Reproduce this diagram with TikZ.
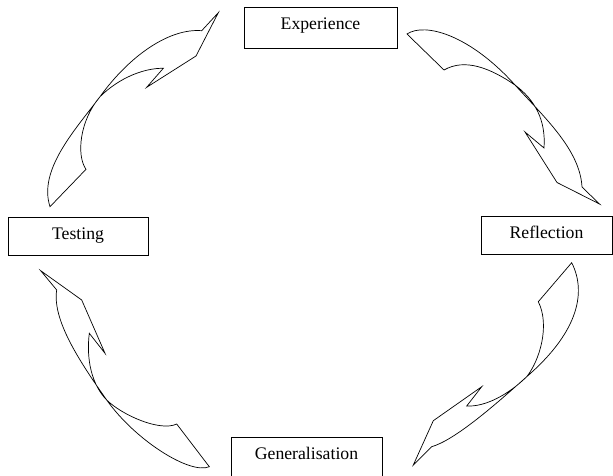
\documentclass[tikz,border=0pt]{standalone}
\usepackage{fontspec}
\setmainfont{Liberation Serif}
\begin{document}
\begin{tikzpicture}[x=1pt,y=-1pt,
  stagebox/.style={draw, line width=0.7pt, inner sep=0pt, text height=22pt,
    font=\fontsize{17.7}{20}\selectfont, anchor=base},
  twist/.style={draw, line width=0.7pt, line join=miter, fill=white}]
\useasboundingbox (0,0) rectangle (613,476);
% boxes
\node[stagebox, minimum width=153pt, text depth=18.5pt] (exp) at (320.5,29.5) {Experience};
\node[stagebox, minimum width=140pt, text depth=16pt] (test) at (78,239) {Testing};
\node[stagebox, minimum width=131pt, text depth=15.5pt] (refl) at (546.5,238.5) {Reflection};
\node[stagebox, minimum width=151pt, text depth=24pt] (gen) at (306.5,459) {Generalisation};
% arrow 1: Testing -> Experience
\draw[twist] (218.3,12.7) -- (201.7,30.7)
  .. controls (170,28) and (130,55) .. (100,96.7)
  .. controls (75,130) and (38,170) .. (50,206.7)
  -- (86,169.3)
  .. controls (76,155) and (80,120) .. (100,96.7)
  .. controls (120,77) and (145,68) .. (163.3,68.3)
  -- (146.7,87.3) -- (196,56) -- cycle;
% arrow 2: Experience -> Reflection
\draw[twist] (407,34)
  .. controls (425,22) and (470,35) .. (515,85)
  .. controls (545,118) and (580,150) .. (582,187)
  -- (599.5,204) -- (557,182.5) -- (525,132) -- (544,148)
  .. controls (546,120) and (535,100) .. (515,85)
  .. controls (490,68) and (465,58) .. (444,70)
  -- cycle;
% arrow 3: Reflection -> Generalisation
\draw[twist] (571.7,262.7)
  .. controls (588,295) and (575,335) .. (526.7,376.7)
  .. controls (495,405) and (455,440) .. (431.7,446.7)
  -- (413.3,465) -- (433.3,420.7) -- (481.7,386.7) -- (466.7,406)
  .. controls (485,407) and (508,395) .. (526.7,376.7)
  .. controls (540,360) and (550,325) .. (538.3,301.7)
  -- cycle;
% arrow 4: Generalisation -> Testing
\draw[twist] (209.3,466.7)
  .. controls (190,475) and (135,440) .. (106.7,400)
  .. controls (80,362) and (52,320) .. (56.7,290)
  -- (40.7,270.7) -- (81.7,300) -- (105,353.3) -- (89.3,333.3)
  .. controls (86,360) and (92,385) .. (106.7,400)
  .. controls (122,415) and (160,432) .. (176.7,424)
  -- cycle;
\end{tikzpicture}
\end{document}
